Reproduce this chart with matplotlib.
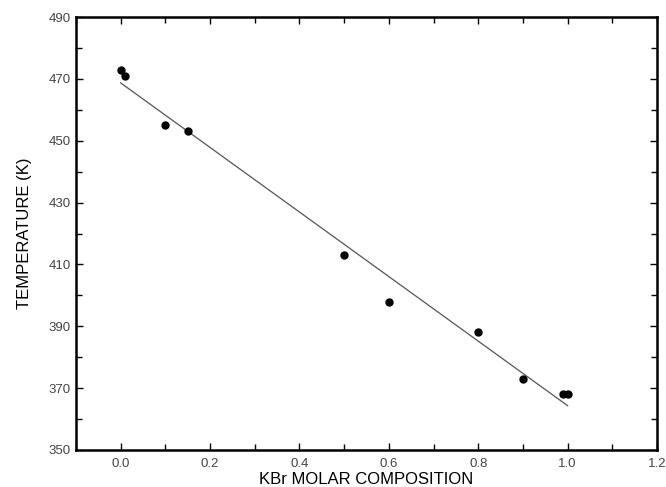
import matplotlib
matplotlib.use('Agg')
import matplotlib.pyplot as plt
import numpy as np
from matplotlib.ticker import MultipleLocator

# dati
kbr_x = [0.0, 0.01, 0.10, 0.15, 0.50, 0.60, 0.80, 0.90, 0.99, 1.00]
temp_k = [473, 471, 455, 453, 413, 398, 388, 373, 368, 368]

y_major = list(range(350, 491, 20))
y_minor = list(range(360, 490, 20))

plt.rcParams['font.family'] = ['Liberation Sans', 'DejaVu Sans']

fig = plt.figure(figsize=(6.66, 4.87), dpi=100)
ax = fig.add_axes([0.114, 0.076, 0.8725, 0.889])

# retta di regressione
slope, inter = np.polyfit(kbr_x, temp_k, 1)
xf = np.array([0.0, 1.0])
ax.plot(xf, slope * xf + inter, color='#555555', lw=0.9)

ax.plot(kbr_x, temp_k, 'o', color='black', markersize=5)

ax.set_xlim(-0.1, 1.2)
ax.set_ylim(350, 490)
ax.xaxis.set_major_locator(MultipleLocator(0.2))
ax.xaxis.set_minor_locator(MultipleLocator(0.1))
ax.set_yticks(y_major)
ax.set_yticks(y_minor, minor=True)
ax.set_xticklabels([f'{v:.1f}' for v in ax.get_xticks()])

ax.tick_params(which='both', direction='in', top=True, right=True,
               labelsize=9.5, labelcolor='#444444', width=1)
ax.tick_params(which='major', length=5)
ax.tick_params(which='minor', length=4)
ax.tick_params(axis='x', pad=6)
for s in ax.spines.values():
    s.set_linewidth(1.8)

ax.set_xlabel('KBr MOLAR COMPOSITION', fontsize=12, labelpad=1)
ax.set_ylabel('TEMPERATURE (K)', fontsize=12, labelpad=12)

fig.savefig('out.png', dpi=100, facecolor='white')
